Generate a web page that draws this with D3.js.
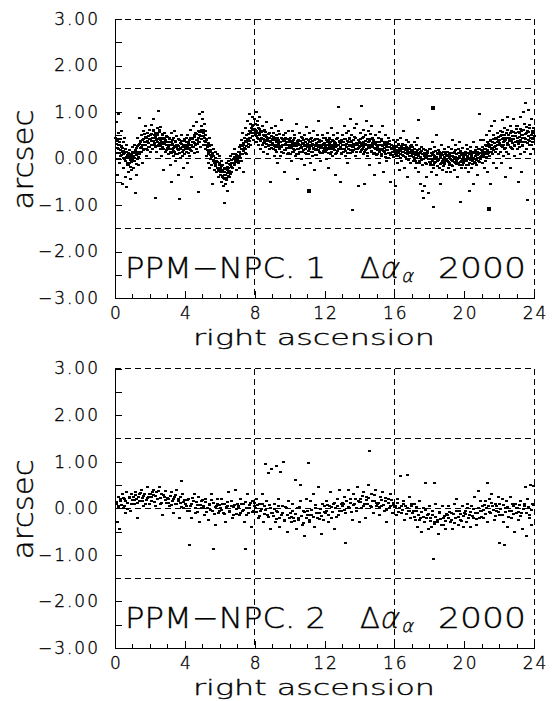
<!DOCTYPE html>
<html>
<head>
<meta charset="utf-8">
<script src="https://cdn.jsdelivr.net/npm/d3@7"></script>
<style>
  body { margin: 0; background: #fff; }
  svg text { font-family: "DejaVu Sans", sans-serif; font-weight: 200; fill: #000; stroke: #000; stroke-width: 0.35px; }
  .tick text { font-size: 17px; letter-spacing: 2px; }
  line, path { shape-rendering: crispEdges; }
</style>
</head>
<body>
<svg id="chart" width="553" height="701"></svg>
<script>
// PPM - NPC differences: [right ascension (h), delta (arcsec)]
const npc1Early = [
  [0.02,0.45],[0.05,0.12],[0.07,0.78],[0.1,-0.35],[0.12,0.38],[0.15,0.55],[0.18,0.2],[0.2,0.95],[0.22,0.3],[0.25,-0.1],[0.28,0.42],[0.3,0.05],[0.33,0.6],[0.35,0.25],[0.38,-0.55],[0.4,0.15],[0.43,0.35],[0.45,-0.2],[0.48,0.1],[0.5,0.45],[0.52,0.0],[0.55,-0.4],[0.58,0.2],[0.6,-0.05],[0.63,0.3],[0.65,-0.62],[0.68,0.08],[0.7,-0.15],[0.73,0.12],[0.75,-0.3],[0.78,0.02],[0.8,-0.1],[0.83,0.18],[0.85,-0.45],[0.88,0.05],[0.9,-0.25],[0.93,0.1],[0.95,-0.02],[0.98,0.25],
  [1.02,0.05],[1.05,-0.2],[1.08,0.3],[1.1,-0.05],[1.13,0.15],[1.15,-0.75],[1.18,0.1],[1.2,-0.35],[1.23,0.22],[1.25,0.0],[1.28,0.45],[1.3,-0.15],[1.33,0.28],[1.36,0.1],[1.4,0.88],[1.42,0.35],[1.45,0.15],[1.48,0.5],[1.5,0.25],[1.53,-0.1],[1.55,0.4],[1.58,0.6],[1.6,0.3],[1.63,0.18],[1.66,0.52],[1.7,0.35],[1.72,0.7],[1.75,0.2],[1.78,0.45],[1.8,0.05],[1.83,0.55],[1.86,0.38],[1.9,0.25],[1.93,0.62],[1.96,0.42],[1.98,0.15],
  [2.02,0.5],[2.05,0.3],[2.08,0.72],[2.1,0.45],[2.13,0.2],[2.15,0.6],[2.18,0.38],[2.2,0.85],[2.23,0.5],[2.25,0.28],[2.28,-0.85],[2.3,0.55],[2.33,0.42],[2.35,0.15],[2.38,0.65],[2.4,0.35],[2.43,0.5],[2.46,1.02],[2.48,0.3],[2.5,0.58],[2.53,0.45],[2.55,0.2],[2.58,0.4],[2.6,0.68],[2.63,0.32],[2.65,0.05],[2.68,0.5],[2.7,0.25],[2.73,0.42],[2.76,-0.25],[2.8,0.35],[2.83,0.55],[2.86,0.15],[2.9,0.3],[2.93,0.48],[2.96,0.22],
  [3.02,0.35],[3.05,0.1],[3.08,0.45],[3.1,0.2],[3.13,-0.15],[3.15,0.3],[3.18,0.55],[3.2,0.12],[3.23,-0.5],[3.25,0.28],[3.28,0.4],[3.3,0.05],[3.33,0.22],[3.36,0.6],[3.4,0.15],[3.42,0.35],[3.45,-0.05],[3.48,0.25],[3.5,0.48],[3.53,0.1],[3.56,0.3],[3.6,-0.35],[3.62,0.18],[3.65,-0.88],[3.68,0.4],[3.7,0.2],[3.73,0.02],[3.76,0.32],[3.8,0.5],[3.83,0.15],[3.86,0.25],[3.9,-0.2],[3.93,0.38],[3.96,0.1],
  [4.02,0.3],[4.05,0.15],[4.08,0.45],[4.1,-0.1],[4.13,0.25],[4.15,0.5],[4.18,0.2],[4.2,0.35],[4.23,0.05],[4.25,0.4],[4.28,0.62],[4.3,0.18],[4.33,0.3],[4.36,-0.4],[4.4,0.45],[4.42,0.25],[4.45,0.7],[4.48,0.35],[4.5,0.12],[4.53,0.5],[4.56,0.3],[4.6,0.55],[4.62,0.2],[4.65,0.78],[4.68,0.4],[4.7,0.15],[4.73,0.6],[4.75,-0.72],[4.76,0.35],[4.8,0.95],[4.83,0.5],[4.86,0.25],[4.9,0.7],[4.93,0.42],[4.96,0.85],
  [5.0,1.0],[5.02,0.55],[5.05,0.3],[5.08,0.75],[5.1,0.45],[5.13,0.2],[5.15,0.6],[5.18,0.35],[5.2,0.05],[5.23,0.4],[5.26,0.25],[5.3,-0.1],[5.32,0.3],[5.35,0.1],[5.38,0.45],[5.4,-0.2],[5.43,0.15],[5.46,0.0],[5.5,0.28],[5.52,-0.15],[5.55,0.08],[5.58,-0.55],[5.6,-0.05],[5.63,0.2],[5.66,-0.25],[5.7,0.02],[5.72,-0.12],[5.75,0.15],[5.78,-0.3],[5.8,-0.08],[5.83,0.1],[5.86,-0.2],[5.9,-0.4],[5.93,-0.1],[5.96,0.05],
  [6.0,-0.2],[6.03,-0.35],[6.05,-0.05],[6.08,-0.5],[6.1,-0.25],[6.13,-0.4],[6.15,-0.15],[6.18,-0.6],[6.2,-0.3],[6.22,-0.45],[6.25,-0.95],[6.27,-0.2],[6.3,-0.55],[6.32,-0.35],[6.35,-0.1],[6.38,-0.42],[6.4,-0.25],[6.43,-0.7],[6.45,-0.3],[6.48,-0.05],[6.5,-0.2],[6.53,-0.4],[6.56,-0.15],[6.6,0.05],[6.62,-0.3],[6.65,-0.1],[6.68,-0.5],[6.7,0.1],[6.73,-0.2],[6.76,0.0],[6.8,-0.12],[6.83,0.2],[6.86,-0.05],[6.9,0.1],[6.93,-0.25],[6.96,0.05],
  [7.0,0.0],[7.03,0.15],[7.05,-0.1],[7.08,0.25],[7.1,0.05],[7.13,-0.2],[7.15,0.3],[7.18,0.1],[7.2,0.4],[7.22,-0.05],[7.25,0.2],[7.28,0.55],[7.3,0.1],[7.33,0.3],[7.36,-0.3],[7.4,0.45],[7.42,0.2],[7.45,0.65],[7.48,0.35],[7.5,0.1],[7.53,0.5],[7.56,0.8],[7.6,0.4],[7.62,0.25],[7.65,0.95],[7.68,0.6],[7.7,0.45],[7.73,0.75],[7.76,0.3],[7.8,0.55],[7.83,0.9],[7.86,0.7],[7.9,0.4],[7.93,0.62],[7.96,0.85]
];

const npc1Middle = [
  [8.0,0.75],[8.03,0.5],[8.05,1.0],[8.08,0.6],[8.1,0.35],[8.13,0.8],[8.15,0.45],[8.18,0.65],[8.2,0.3],[8.22,0.55],[8.25,0.9],[8.28,0.4],[8.3,0.2],[8.33,0.6],[8.36,0.45],[8.4,0.7],[8.42,0.3],[8.45,0.5],[8.48,0.15],[8.5,0.42],[8.53,0.62],[8.56,0.35],[8.6,0.5],[8.62,0.25],[8.65,0.78],[8.68,0.4],[8.7,0.1],[8.73,0.45],[8.76,0.3],[8.8,0.55],[8.83,0.2],[8.86,0.38],[8.9,-0.5],[8.91,0.65],[8.93,0.3],[8.96,0.48],
  [9.0,0.4],[9.03,0.2],[9.05,0.55],[9.08,0.3],[9.1,0.05],[9.13,0.45],[9.15,0.25],[9.18,0.7],[9.2,0.35],[9.22,0.15],[9.25,0.5],[9.28,0.3],[9.3,-0.1],[9.33,0.4],[9.36,0.6],[9.4,0.2],[9.42,0.35],[9.45,0.05],[9.48,0.45],[9.5,0.25],[9.53,0.82],[9.56,0.3],[9.6,0.12],[9.62,0.5],[9.65,0.28],[9.68,-0.3],[9.7,0.4],[9.73,0.18],[9.76,0.55],[9.8,0.3],[9.83,0.1],[9.86,0.42],[9.9,0.22],[9.93,0.6],[9.96,0.35],
  [10.0,0.3],[10.03,0.1],[10.05,0.45],[10.08,0.25],[10.1,-0.05],[10.13,0.35],[10.15,0.6],[10.18,0.2],[10.2,0.4],[10.22,0.15],[10.25,0.3],[10.28,0.5],[10.3,0.05],[10.33,0.28],[10.36,0.75],[10.4,0.35],[10.42,0.2],[10.45,-0.45],[10.48,0.4],[10.5,0.1],[10.53,0.3],[10.56,0.55],[10.6,0.22],[10.62,0.38],[10.65,0.0],[10.68,0.25],[10.7,0.45],[10.73,0.15],[10.76,0.32],[10.8,-0.15],[10.83,0.5],[10.86,0.2],[10.9,0.35],[10.93,0.68],[10.96,0.1],
  [11.0,0.25],[11.03,0.4],[11.05,0.1],[11.08,0.3],[11.1,0.55],[11.13,0.2],[11.15,-0.1],[11.18,0.35],[11.2,0.15],[11.22,0.45],[11.25,0.28],[11.28,0.05],[11.3,0.38],[11.33,0.6],[11.36,0.2],[11.4,0.3],[11.42,-0.25],[11.45,0.42],[11.48,0.18],[11.5,0.3],[11.53,0.08],[11.56,0.5],[11.6,0.25],[11.62,0.35],[11.65,0.8],[11.68,0.15],[11.7,0.4],[11.73,0.22],[11.76,-0.05],[11.8,0.3],[11.83,0.5],[11.86,0.12],[11.9,0.28],[11.93,0.45],[11.96,0.2],
  [12.0,0.3],[12.03,0.15],[12.05,0.45],[12.08,0.22],[12.1,0.0],[12.13,0.35],[12.15,0.55],[12.18,0.2],[12.2,0.38],[12.22,-0.2],[12.25,0.25],[12.28,0.45],[12.3,0.1],[12.33,0.3],[12.36,0.65],[12.4,0.2],[12.42,0.4],[12.45,0.05],[12.48,0.28],[12.5,0.5],[12.53,0.18],[12.56,0.35],[12.6,-0.35],[12.62,0.25],[12.65,0.42],[12.68,0.12],[12.7,0.3],[12.73,0.55],[12.76,0.2],[12.8,1.1],[12.83,0.35],[12.86,-0.5],[12.9,0.25],[12.93,0.1],[12.96,0.4],
  [13.0,0.3],[13.03,0.5],[13.05,0.15],[13.08,0.35],[13.1,0.7],[13.13,0.2],[13.15,0.42],[13.18,0.05],[13.2,0.3],[13.22,0.55],[13.25,0.25],[13.28,-0.1],[13.3,0.38],[13.33,0.6],[13.36,0.2],[13.4,0.45],[13.42,0.3],[13.45,0.85],[13.48,0.12],[13.5,0.35],[13.53,0.5],[13.56,0.25],[13.6,-1.1],[13.62,0.4],[13.65,0.18],[13.68,0.65],[13.7,0.3],[13.73,0.05],[13.76,0.45],[13.8,0.28],[13.83,0.75],[13.86,0.2],[13.9,-0.6],[13.93,0.4],[13.96,0.25],
  [14.0,0.35],[14.03,0.15],[14.05,0.55],[14.08,0.3],[14.1,1.12],[14.13,0.2],[14.15,0.45],[14.18,0.62],[14.2,0.1],[14.22,0.35],[14.25,-0.55],[14.28,0.28],[14.3,0.5],[14.33,0.18],[14.36,0.8],[14.4,0.3],[14.42,0.05],[14.45,0.42],[14.48,0.6],[14.5,0.25],[14.53,0.38],[14.56,-0.15],[14.6,0.3],[14.62,0.52],[14.65,0.15],[14.68,0.7],[14.7,0.28],[14.73,0.45],[14.76,0.1],[14.8,0.35],[14.83,-0.35],[14.86,0.22],[14.9,0.5],[14.93,0.3],[14.96,0.08],
  [15.0,0.3],[15.03,0.1],[15.05,0.45],[15.08,0.2],[15.1,-0.1],[15.13,0.35],[15.15,0.58],[15.18,0.18],[15.2,0.3],[15.22,0.05],[15.25,0.42],[15.28,0.2],[15.3,0.7],[15.33,0.28],[15.36,-0.3],[15.4,0.15],[15.42,0.35],[15.45,0.5],[15.48,0.1],[15.5,0.25],[15.53,-0.05],[15.56,0.32],[15.6,0.18],[15.62,0.45],[15.65,0.02],[15.68,0.25],[15.7,0.38],[15.73,0.12],[15.76,-0.5],[15.8,0.22],[15.83,0.3],[15.86,0.08],[15.9,0.4],[15.93,0.15],[15.96,0.25]
];

const npc1Late = [
  [16.0,0.2],[16.03,-0.6],[16.05,0.35],[16.08,0.1],[16.1,0.25],[16.13,-0.1],[16.15,0.4],[16.18,0.15],[16.2,0.05],[16.22,0.3],[16.25,-0.25],[16.28,0.2],[16.3,0.45],[16.33,0.1],[16.36,0.25],[16.4,-0.05],[16.42,0.32],[16.45,0.15],[16.48,0.6],[16.5,0.05],[16.53,0.22],[16.56,-0.2],[16.6,0.3],[16.62,0.12],[16.65,0.4],[16.68,0.0],[16.7,0.2],[16.73,-0.4],[16.76,0.15],[16.8,0.35],[16.83,0.05],[16.86,0.22],[16.9,-0.1],[16.93,0.18],[16.96,0.3],
  [17.0,0.1],[17.03,0.25],[17.05,-0.05],[17.08,0.15],[17.1,0.35],[17.13,0.0],[17.15,0.2],[17.18,-0.2],[17.2,0.08],[17.22,0.3],[17.25,-0.1],[17.28,0.12],[17.3,0.45],[17.33,-0.3],[17.35,0.83],[17.36,0.05],[17.4,0.2],[17.42,-0.05],[17.45,0.15],[17.48,-0.55],[17.5,0.0],[17.53,0.25],[17.56,-0.15],[17.6,-0.7],[17.62,0.1],[17.65,-0.85],[17.68,0.05],[17.7,-0.6],[17.73,0.18],[17.76,-0.1],[17.8,0.02],[17.83,-0.4],[17.86,0.12],[17.9,-0.75],[17.93,0.0],[17.96,0.2],
  [18.0,0.05],[18.03,-0.15],[18.05,0.2],[18.08,0.0],[18.1,-0.3],[18.13,0.1],[18.15,0.35],[18.18,-0.05],[18.2,-1.05],[18.21,0.15],[18.22,-0.2],[18.25,0.05],[18.28,0.25],[18.3,-0.1],[18.33,0.0],[18.36,0.5],[18.4,-0.35],[18.42,0.12],[18.45,-0.05],[18.48,0.18],[18.5,0.0],[18.53,-0.2],[18.56,0.1],[18.6,-0.55],[18.62,0.05],[18.65,0.3],[18.68,-0.1],[18.7,0.08],[18.73,-0.25],[18.76,0.15],[18.8,0.0],[18.83,-0.12],[18.86,0.2],[18.9,-0.05],[18.93,0.1],[18.96,-0.3],
  [19.0,-0.05],[19.03,0.15],[19.05,-0.2],[19.08,0.05],[19.1,0.25],[19.13,-0.1],[19.15,0.1],[19.18,-0.3],[19.2,0.0],[19.22,0.2],[19.25,-0.15],[19.28,0.05],[19.3,0.4],[19.33,-0.05],[19.36,0.12],[19.4,-0.25],[19.42,0.0],[19.45,0.18],[19.48,-0.1],[19.5,0.3],[19.53,-0.05],[19.56,0.1],[19.6,-0.4],[19.62,0.02],[19.65,0.2],[19.68,-0.15],[19.7,0.05],[19.73,0.35],[19.76,-0.93],[19.77,-0.08],[19.8,0.12],[19.83,-0.2],[19.86,0.0],[19.9,0.22],[19.93,-0.1],[19.96,0.08],
  [20.0,0.0],[20.03,-0.2],[20.05,0.15],[20.08,-0.05],[20.1,0.3],[20.13,-0.15],[20.15,0.05],[20.18,0.2],[20.2,-0.3],[20.22,0.0],[20.25,0.12],[20.28,-0.7],[20.3,-0.1],[20.33,0.25],[20.36,0.02],[20.4,-0.2],[20.42,0.1],[20.45,-0.05],[20.48,0.35],[20.5,0.0],[20.53,-0.55],[20.56,0.15],[20.6,-0.1],[20.62,0.05],[20.65,0.25],[20.68,-0.15],[20.7,0.1],[20.73,-0.35],[20.76,0.02],[20.8,0.2],[20.83,-0.08],[20.85,0.95],[20.86,0.12],[20.9,0.4],[20.93,0.0],[20.96,0.18],
  [21.0,0.1],[21.03,-0.1],[21.05,0.25],[21.08,0.05],[21.1,0.4],[21.13,-0.2],[21.15,0.15],[21.18,0.3],[21.2,-0.05],[21.22,0.2],[21.25,0.5],[21.28,0.1],[21.3,-0.3],[21.33,0.35],[21.36,0.15],[21.4,0.6],[21.42,0.05],[21.45,0.28],[21.48,-0.55],[21.5,0.4],[21.53,0.2],[21.56,0.7],[21.6,0.1],[21.62,0.35],[21.65,-0.1],[21.68,0.5],[21.7,0.25],[21.73,0.8],[21.76,0.15],[21.8,0.42],[21.83,-0.2],[21.86,0.3],[21.9,0.55],[21.93,0.1],[21.96,0.38],
  [22.0,0.4],[22.03,0.15],[22.05,0.6],[22.08,0.3],[22.1,-0.1],[22.13,0.5],[22.15,0.25],[22.18,0.82],[22.2,0.35],[22.22,0.05],[22.25,0.45],[22.28,0.65],[22.3,0.2],[22.33,-0.4],[22.36,0.4],[22.4,0.55],[22.42,0.15],[22.45,0.9],[22.48,0.3],[22.5,0.5],[22.53,0.1],[22.56,0.42],[22.6,0.7],[22.62,0.25],[22.65,-0.2],[22.68,0.38],[22.7,0.6],[22.73,0.2],[22.76,0.48],[22.8,0.85],[22.83,0.3],[22.86,0.05],[22.9,0.55],[22.93,0.35],[22.96,0.7],
  [23.0,0.45],[23.03,0.2],[23.05,0.7],[23.08,0.35],[23.1,-0.5],[23.13,0.55],[23.15,0.25],[23.18,0.9],[23.2,0.4],[23.22,0.1],[23.25,0.6],[23.28,-0.3],[23.3,0.5],[23.33,0.3],[23.36,1.0],[23.4,0.45],[23.42,0.15],[23.45,0.75],[23.48,0.35],[23.5,1.2],[23.53,0.55],[23.56,0.2],[23.6,-0.9],[23.62,0.6],[23.65,0.4],[23.68,1.05],[23.7,0.3],[23.73,0.65],[23.76,0.1],[23.8,0.5],[23.83,0.85],[23.86,0.35],[23.9,0.6],[23.93,0.2],[23.96,0.45]
];

// the crowded middle of the band in the upper panel
const npc1Core = [
  [0.04,0.31],[0.09,0.22],[0.11,0.41],[0.16,0.28],[0.21,0.12],[0.24,0.36],[0.29,0.19],[0.32,0.27],[0.37,0.08],[0.41,0.22],[0.44,0.02],[0.47,0.17],[0.53,0.11],[0.57,-0.06],[0.61,0.14],[0.64,0.03],[0.69,-0.09],[0.72,0.06],[0.76,-0.14],[0.79,0.09],[0.84,-0.03],[0.87,-0.18],[0.91,0.04],[0.94,-0.08],[0.99,0.13],
  [1.03,-0.06],[1.07,0.12],[1.11,0.02],[1.14,0.19],[1.19,-0.11],[1.22,0.08],[1.27,0.27],[1.31,0.13],[1.34,0.04],[1.38,0.31],[1.43,0.22],[1.46,0.38],[1.51,0.14],[1.54,0.29],[1.59,0.42],[1.62,0.21],[1.67,0.35],[1.71,0.47],[1.74,0.28],[1.79,0.36],[1.82,0.18],[1.87,0.49],[1.91,0.33],[1.94,0.24],[1.99,0.41],
  [2.04,0.37],[2.07,0.52],[2.11,0.29],[2.16,0.44],[2.19,0.61],[2.24,0.33],[2.27,0.47],[2.31,0.24],[2.34,0.39],[2.39,0.55],[2.42,0.27],[2.47,0.42],[2.51,0.33],[2.54,0.62],[2.59,0.26],[2.62,0.45],[2.66,0.36],[2.71,0.53],[2.74,0.21],[2.79,0.44],[2.82,0.31],[2.87,0.39],[2.91,0.18],[2.94,0.35],[2.98,0.47],
  [3.04,0.24],[3.07,0.41],[3.11,0.29],[3.16,0.13],[3.19,0.36],[3.24,0.21],[3.27,0.32],[3.31,0.44],[3.34,0.16],[3.39,0.27],[3.43,0.38],[3.46,0.09],[3.51,0.29],[3.54,0.21],[3.58,0.41],[3.63,0.26],[3.66,0.12],[3.71,0.33],[3.74,0.22],[3.79,0.37],[3.82,0.06],[3.87,0.29],[3.91,0.19],[3.94,0.43],[3.98,0.24],
  [4.03,0.21],[4.07,0.36],[4.11,0.27],[4.16,0.12],[4.19,0.31],[4.24,0.23],[4.27,0.44],[4.31,0.29],[4.34,0.16],[4.39,0.35],[4.43,0.42],[4.46,0.24],[4.51,0.33],[4.54,0.47],[4.58,0.28],[4.63,0.39],[4.66,0.52],[4.71,0.31],[4.74,0.45],[4.79,0.58],[4.82,0.36],[4.87,0.49],[4.91,0.62],[4.94,0.41],[4.98,0.57],
  [5.03,0.48],[5.06,0.62],[5.11,0.37],[5.14,0.51],[5.19,0.28],[5.22,0.42],[5.27,0.19],[5.31,0.33],[5.34,0.14],[5.39,0.26],[5.42,0.07],[5.47,0.18],[5.51,0.03],[5.54,0.12],[5.59,-0.04],[5.62,0.06],[5.67,-0.09],[5.71,0.01],[5.74,-0.16],[5.79,-0.05],[5.82,-0.21],[5.87,-0.08],[5.91,-0.24],[5.94,-0.13],[5.98,-0.27],
  [6.02,-0.28],[6.06,-0.16],[6.11,-0.37],[6.14,-0.24],[6.19,-0.41],[6.23,-0.29],[6.26,-0.36],[6.31,-0.22],[6.34,-0.47],[6.39,-0.31],[6.42,-0.18],[6.47,-0.38],[6.51,-0.27],[6.54,-0.11],[6.58,-0.33],[6.63,-0.19],[6.66,-0.04],[6.71,-0.21],[6.74,-0.09],[6.79,0.03],[6.82,-0.14],[6.87,-0.02],[6.91,0.07],[6.94,-0.08],[6.98,0.04],
  [7.02,0.06],[7.06,-0.05],[7.11,0.14],[7.14,0.02],[7.19,0.21],[7.23,0.09],[7.26,0.27],[7.31,0.16],[7.34,0.34],[7.39,0.22],[7.43,0.11],[7.46,0.38],[7.51,0.27],[7.54,0.43],[7.59,0.31],[7.63,0.52],[7.66,0.37],[7.71,0.58],[7.74,0.44],[7.79,0.66],[7.82,0.49],[7.87,0.61],[7.91,0.73],[7.94,0.54],[7.98,0.64],
  [8.02,0.62],[8.06,0.48],[8.11,0.71],[8.14,0.55],[8.19,0.42],[8.23,0.64],[8.26,0.51],[8.31,0.37],[8.34,0.56],[8.39,0.44],[8.43,0.59],[8.46,0.33],[8.51,0.48],[8.54,0.39],[8.59,0.56],[8.63,0.31],[8.66,0.46],[8.71,0.38],[8.74,0.53],[8.79,0.27],[8.82,0.44],[8.87,0.35],[8.91,0.49],[8.94,0.22],[8.98,0.41],
  [9.02,0.33],[9.06,0.47],[9.11,0.26],[9.14,0.39],[9.19,0.18],[9.23,0.35],[9.26,0.44],[9.31,0.24],[9.34,0.31],[9.39,0.52],[9.43,0.27],[9.46,0.36],[9.51,0.14],[9.54,0.41],[9.59,0.29],[9.63,0.37],[9.66,0.19],[9.71,0.32],[9.74,0.45],[9.79,0.23],[9.82,0.36],[9.87,0.28],[9.91,0.12],[9.94,0.39],[9.98,0.26],
  [10.02,0.22],[10.06,0.38],[10.11,0.15],[10.14,0.31],[10.19,0.26],[10.23,0.44],[10.26,0.19],[10.31,0.34],[10.34,0.09],[10.39,0.27],[10.43,0.37],[10.46,0.21],[10.51,0.32],[10.54,0.13],[10.59,0.29],[10.63,0.46],[10.66,0.23],[10.71,0.33],[10.74,0.18],[10.79,0.39],[10.82,0.26],[10.87,0.11],[10.91,0.29],[10.94,0.41],[10.98,0.24],
  [11.02,0.31],[11.06,0.17],[11.11,0.36],[11.14,0.24],[11.19,0.43],[11.23,0.27],[11.26,0.14],[11.31,0.32],[11.34,0.22],[11.39,0.39],[11.43,0.26],[11.46,0.08],[11.51,0.34],[11.54,0.21],[11.59,0.41],[11.63,0.18],[11.66,0.29],[11.71,0.35],[11.74,0.12],[11.79,0.26],[11.82,0.38],[11.87,0.23],[11.91,0.31],[11.94,0.16],[11.98,0.34],
  [12.02,0.24],[12.06,0.39],[12.11,0.19],[12.14,0.29],[12.19,0.11],[12.23,0.33],[12.26,0.42],[12.31,0.22],[12.34,0.36],[12.39,0.14],[12.43,0.27],[12.46,0.38],[12.51,0.23],[12.54,0.31],[12.59,0.09],[12.63,0.34],[12.66,0.26],[12.71,0.44],[12.74,0.17],[12.79,0.29],[12.82,0.37],[12.87,0.21],[12.91,0.33],[12.94,0.12],[12.98,0.28],
  [13.02,0.36],[13.06,0.21],[13.11,0.29],[13.14,0.43],[13.19,0.16],[13.23,0.32],[13.26,0.24],[13.31,0.11],[13.34,0.35],[13.39,0.27],[13.43,0.41],[13.46,0.19],[13.51,0.29],[13.54,0.37],[13.59,0.13],[13.63,0.31],[13.66,0.24],[13.71,0.47],[13.74,0.21],[13.79,0.34],[13.82,0.15],[13.87,0.28],[13.91,0.39],[13.94,0.22],[13.98,0.33],
  [14.02,0.27],[14.06,0.41],[14.11,0.18],[14.14,0.34],[14.19,0.24],[14.23,0.46],[14.26,0.13],[14.31,0.31],[14.34,0.38],[14.39,0.21],[14.43,0.29],[14.46,0.12],[14.51,0.36],[14.54,0.23],[14.59,0.42],[14.63,0.27],[14.66,0.17],[14.71,0.33],[14.74,0.24],[14.79,0.39],[14.82,0.11],[14.87,0.31],[14.91,0.21],[14.94,0.36],[14.98,0.19],
  [15.02,0.24],[15.06,0.36],[15.11,0.14],[15.14,0.29],[15.19,0.21],[15.23,0.38],[15.26,0.09],[15.31,0.26],[15.34,0.17],[15.39,0.33],[15.43,0.22],[15.46,0.04],[15.51,0.29],[15.54,0.18],[15.59,0.36],[15.63,0.12],[15.66,0.24],[15.71,0.31],[15.74,0.07],[15.79,0.21],[15.82,0.29],[15.87,0.14],[15.91,0.26],[15.94,0.03],[15.98,0.19],
  [16.02,0.14],[16.06,0.27],[16.11,0.06],[16.14,0.19],[16.19,0.31],[16.23,0.11],[16.26,0.22],[16.31,0.02],[16.34,0.17],[16.39,0.26],[16.43,0.08],[16.46,0.21],[16.51,0.13],[16.54,0.29],[16.59,0.04],[16.63,0.18],[16.66,0.24],[16.71,0.09],[16.74,0.16],[16.79,-0.03],[16.82,0.21],[16.87,0.12],[16.91,0.27],[16.94,0.06],[16.98,0.14],
  [17.02,0.17],[17.06,0.04],[17.11,0.21],[17.14,0.09],[17.19,-0.06],[17.23,0.14],[17.26,0.02],[17.31,0.19],[17.34,0.07],[17.39,-0.09],[17.43,0.12],[17.46,0.03],[17.51,0.16],[17.54,-0.04],[17.59,0.09],[17.63,0.21],[17.66,-0.02],[17.71,0.11],[17.74,0.04],[17.79,-0.12],[17.82,0.08],[17.87,0.16],[17.91,-0.01],[17.94,0.06],[17.98,-0.08],
  [18.02,0.06],[18.06,-0.09],[18.11,0.12],[18.14,-0.03],[18.19,0.08],[18.23,-0.14],[18.26,0.02],[18.31,0.16],[18.34,-0.07],[18.39,0.04],[18.43,-0.17],[18.46,0.09],[18.51,-0.04],[18.54,0.13],[18.59,-0.11],[18.63,0.01],[18.66,0.11],[18.71,-0.06],[18.74,0.07],[18.79,-0.16],[18.82,0.03],[18.87,-0.08],[18.91,0.14],[18.94,-0.02],[18.98,0.05],
  [19.02,0.07],[19.06,-0.08],[19.11,0.02],[19.14,-0.13],[19.19,0.11],[19.23,-0.04],[19.26,0.06],[19.31,-0.16],[19.34,0.03],[19.39,0.14],[19.43,-0.07],[19.46,0.04],[19.51,-0.12],[19.54,0.09],[19.59,-0.02],[19.63,0.12],[19.66,-0.09],[19.71,0.01],[19.74,0.16],[19.79,-0.05],[19.82,0.08],[19.87,-0.14],[19.91,0.03],[19.94,0.11],[19.98,-0.06],
  [20.02,0.08],[20.06,-0.06],[20.11,0.12],[20.14,-0.02],[20.19,0.04],[20.23,-0.13],[20.26,0.09],[20.31,0.17],[20.34,-0.04],[20.39,0.06],[20.43,-0.11],[20.46,0.13],[20.51,0.02],[20.54,-0.08],[20.59,0.11],[20.63,0.19],[20.66,-0.03],[20.71,0.07],[20.74,0.14],[20.79,-0.06],[20.82,0.09],[20.87,0.21],[20.91,0.03],[20.94,0.12],[20.98,0.06],
  [21.02,0.16],[21.06,0.03],[21.11,0.21],[21.14,0.09],[21.19,0.13],[21.23,0.27],[21.26,0.04],[21.31,0.19],[21.34,0.31],[21.39,0.11],[21.43,0.24],[21.46,0.37],[21.51,0.15],[21.54,0.29],[21.59,0.22],[21.63,0.41],[21.66,0.18],[21.71,0.33],[21.74,0.26],[21.79,0.44],[21.82,0.21],[21.87,0.36],[21.91,0.28],[21.94,0.47],[21.98,0.31],
  [22.02,0.33],[22.06,0.49],[22.11,0.26],[22.14,0.41],[22.19,0.56],[22.23,0.29],[22.26,0.38],[22.31,0.51],[22.34,0.23],[22.39,0.44],[22.43,0.34],[22.46,0.61],[22.51,0.28],[22.54,0.45],[22.59,0.37],[22.63,0.54],[22.66,0.22],[22.71,0.42],[22.74,0.33],[22.79,0.58],[22.82,0.41],[22.87,0.27],[22.91,0.48],[22.94,0.36],[22.98,0.63],
  [23.02,0.38],[23.06,0.56],[23.11,0.31],[23.14,0.47],[23.19,0.64],[23.23,0.35],[23.26,0.51],[23.31,0.27],[23.34,0.45],[23.39,0.61],[23.43,0.36],[23.46,0.52],[23.51,0.41],[23.54,0.68],[23.59,0.33],[23.63,0.49],[23.66,0.57],[23.71,0.38],[23.74,0.72],[23.79,0.44],[23.82,0.29],[23.87,0.55],[23.91,0.42],[23.94,0.66],[23.98,0.48]
];

const npc1Heavy = [[18.2,1.09],[21.4,-1.09],[11.1,-0.7]];

const npc2Early = [
  [0.05,0.1],[0.1,-0.3],[0.15,0.25],[0.2,0.05],[0.25,-0.45],[0.3,0.15],[0.38,0.3],[0.45,0.0],[0.5,0.2],[0.55,-0.1],[0.62,0.35],[0.7,0.12],[0.78,0.25],[0.85,-0.05],[0.92,0.3],[0.97,0.18],
  [1.02,0.25],[1.1,0.1],[1.15,0.35],[1.2,0.2],[1.28,-0.2],[1.35,0.3],[1.4,0.15],[1.48,0.4],[1.55,0.22],[1.6,0.05],[1.68,0.3],[1.75,0.18],[1.82,0.45],[1.9,0.25],[1.95,0.1],
  [2.02,0.3],[2.08,0.15],[2.15,0.4],[2.2,0.28],[2.28,0.05],[2.35,0.35],[2.42,0.2],[2.5,0.45],[2.55,0.1],[2.62,0.3],[2.7,-0.15],[2.78,0.25],[2.85,0.38],[2.92,0.12],[2.98,0.22],
  [3.05,0.2],[3.1,0.05],[3.18,0.35],[3.25,0.15],[3.3,-0.1],[3.38,0.25],[3.45,0.1],[3.52,0.4],[3.6,0.2],[3.68,-0.2],[3.75,0.12],[3.8,0.58],[3.82,0.3],[3.88,0.0],[3.95,0.18],
  [4.02,0.1],[4.1,-0.05],[4.18,0.2],[4.22,-0.78],[4.3,0.05],[4.38,-0.2],[4.45,0.15],[4.52,0.3],[4.6,-0.1],[4.68,0.08],[4.75,0.25],[4.82,-0.3],[4.9,0.0],[4.96,0.18],
  [5.02,0.05],[5.1,-0.15],[5.18,0.2],[5.25,0.0],[5.32,-0.25],[5.4,0.1],[5.48,0.3],[5.55,-0.05],[5.6,-0.88],[5.62,0.12],[5.7,-0.35],[5.78,0.05],[5.85,0.2],[5.92,-0.1],[5.98,0.08],
  [6.02,0.0],[6.1,0.2],[6.18,-0.1],[6.25,0.1],[6.32,-0.3],[6.4,0.05],[6.48,0.35],[6.55,-0.05],[6.62,0.15],[6.7,-0.2],[6.78,0.02],[6.85,0.4],[6.92,-0.12],[6.98,0.1],
  [7.02,0.05],[7.1,-0.15],[7.18,0.2],[7.25,-0.05],[7.32,0.1],[7.4,-0.3],[7.42,-0.88],[7.48,0.0],[7.55,0.3],[7.62,-0.1],[7.7,0.08],[7.78,-0.4],[7.85,0.15],[7.92,-0.05],[7.98,0.12],
  [8.02,0.0],[8.1,0.2],[8.18,-0.2],[8.25,0.1],[8.32,-0.05],[8.4,0.3],[8.48,-0.3],[8.55,0.05],[8.6,0.95],[8.65,0.15],[8.72,-0.15],[8.78,0.75],[8.85,0.0],[8.9,-0.45],[8.95,0.85],
  [9.02,-0.1],[9.08,0.1],[9.15,-0.3],[9.2,0.9],[9.25,-0.05],[9.32,0.2],[9.38,-0.4],[9.45,0.78],[9.5,-0.15],[9.58,0.05],[9.62,1.0],[9.7,-0.25],[9.78,0.0],[9.85,-0.5],[9.92,0.15],[9.97,-0.2],
  [10.02,-0.1],[10.1,-0.3],[10.15,0.1],[10.22,-0.2],[10.3,0.6],[10.35,-0.45],[10.42,0.0],[10.5,-0.25],[10.58,0.15],[10.62,0.5],[10.7,-0.35],[10.78,-0.05],[10.85,-0.6],[10.92,0.2],[10.98,-0.15],
  [11.02,-0.05],[11.05,0.97],[11.1,-0.3],[11.18,0.15],[11.25,-0.15],[11.32,0.3],[11.4,-0.4],[11.48,0.0],[11.55,-0.2],[11.62,0.45],[11.7,-0.1],[11.78,-0.55],[11.85,0.1],[11.92,-0.25],[11.98,0.05]
];

const npc2Late = [
  [12.02,-0.1],[12.1,0.15],[12.18,-0.3],[12.25,0.05],[12.32,0.35],[12.4,-0.2],[12.48,0.1],[12.55,-0.45],[12.62,0.0],[12.7,0.2],[12.78,-0.15],[12.85,0.4],[12.92,-0.05],[12.98,0.12],
  [13.02,0.05],[13.1,0.25],[13.18,-0.1],[13.2,-0.75],[13.25,0.15],[13.32,0.4],[13.4,0.0],[13.48,0.2],[13.55,-0.25],[13.62,0.3],[13.7,0.1],[13.78,-0.05],[13.85,0.45],[13.92,0.15],[13.98,-0.3],
  [14.02,0.2],[14.1,0.0],[14.18,0.35],[14.25,0.1],[14.32,-0.2],[14.4,0.25],[14.48,0.5],[14.56,1.23],[14.6,0.05],[14.68,0.3],[14.75,-0.1],[14.82,0.15],[14.9,0.4],[14.96,0.05],
  [15.02,0.1],[15.1,-0.15],[15.18,0.25],[15.25,0.05],[15.32,0.35],[15.4,-0.05],[15.48,0.15],[15.55,-0.3],[15.62,0.2],[15.7,0.0],[15.78,0.3],[15.85,-0.1],[15.92,0.12],[15.98,0.02],
  [16.02,0.05],[16.1,-0.15],[16.18,0.2],[16.25,0.0],[16.32,0.7],[16.4,-0.1],[16.48,0.15],[16.55,-0.25],[16.62,0.05],[16.7,0.72],[16.78,-0.05],[16.85,0.25],[16.92,-0.2],[16.98,0.1],
  [17.02,-0.1],[17.1,0.1],[17.18,-0.25],[17.25,-0.05],[17.32,-0.4],[17.4,0.15],[17.48,-0.2],[17.55,-0.5],[17.62,0.0],[17.7,-0.3],[17.78,0.55],[17.85,-0.15],[17.92,-0.45],[17.98,0.05],
  [18.02,-0.2],[18.1,-0.4],[18.18,-0.05],[18.22,-1.09],[18.28,-0.3],[18.3,0.54],[18.35,0.1],[18.42,-0.25],[18.5,-0.55],[18.58,-0.1],[18.65,-0.35],[18.72,0.05],[18.8,-0.2],[18.88,-0.45],[18.95,-0.12],
  [19.02,-0.15],[19.1,0.05],[19.18,-0.3],[19.25,-0.1],[19.32,-0.45],[19.4,0.1],[19.48,-0.2],[19.55,0.2],[19.62,-0.35],[19.7,-0.05],[19.78,-0.25],[19.85,0.05],[19.92,-0.4],[19.98,-0.1],
  [20.02,-0.05],[20.1,-0.3],[20.18,0.1],[20.25,-0.15],[20.32,-0.4],[20.4,0.05],[20.48,-0.2],[20.55,0.25],[20.62,-0.1],[20.7,-0.35],[20.78,0.0],[20.8,0.37],[20.85,-0.2],[20.92,0.15],[20.98,-0.05],
  [21.02,0.05],[21.1,-0.2],[21.18,0.15],[21.25,0.0],[21.3,0.54],[21.32,-0.3],[21.4,0.2],[21.48,-0.1],[21.55,0.3],[21.62,0.05],[21.7,-0.25],[21.78,0.1],[21.85,-0.05],[21.92,0.25],[21.98,-0.15],
  [22.0,-0.75],[22.02,0.1],[22.1,-0.15],[22.18,0.2],[22.25,-0.3],[22.3,-0.78],[22.32,0.0],[22.4,0.15],[22.48,-0.4],[22.55,-0.05],[22.62,0.25],[22.7,-0.2],[22.78,0.05],[22.85,-0.5],[22.92,0.1],[22.98,-0.1],
  [23.02,0.0],[23.1,-0.25],[23.18,0.15],[23.25,-0.1],[23.32,-0.45],[23.4,0.05],[23.48,0.45],[23.55,-0.6],[23.62,0.2],[23.7,-0.15],[23.75,0.5],[23.82,-0.35],[23.88,0.1],[23.95,0.48]
];

// the crowded middle of the band in the lower panel
const npc2Core = [
  [0.07,0.14],[0.17,0.02],[0.26,0.19],[0.34,0.07],[0.43,0.23],[0.52,0.04],[0.6,0.16],[0.68,-0.02],[0.81,0.21],[0.9,0.09],
  [1.06,0.18],[1.16,0.29],[1.24,0.11],[1.33,0.24],[1.44,0.33],[1.52,0.16],[1.63,0.27],[1.72,0.09],[1.81,0.22],[1.92,0.31],
  [2.05,0.24],[2.12,0.34],[2.22,0.13],[2.31,0.27],[2.4,0.19],[2.48,0.36],[2.58,0.22],[2.66,0.11],[2.75,0.29],[2.88,0.17],
  [3.03,0.12],[3.14,0.26],[3.22,0.06],[3.33,0.19],[3.42,0.28],[3.49,0.09],[3.58,0.16],[3.71,0.24],[3.79,0.03],[3.91,0.14],
  [4.06,0.04],[4.14,0.17],[4.26,-0.06],[4.34,0.09],[4.42,0.21],[4.56,0.01],[4.64,0.13],[4.72,-0.08],[4.86,0.07],[4.93,0.15],
  [5.06,0.01],[5.14,0.13],[5.22,-0.09],[5.36,0.06],[5.44,-0.04],[5.52,0.17],[5.66,-0.12],[5.74,0.02],[5.82,0.1],[5.95,-0.06],
  [6.06,-0.04],[6.14,0.09],[6.22,-0.13],[6.36,0.02],[6.44,0.14],[6.52,-0.07],[6.66,0.05],[6.74,-0.15],[6.82,0.08],[6.95,-0.02],
  [7.06,0.02],[7.14,-0.11],[7.22,0.09],[7.36,-0.04],[7.45,0.13],[7.52,-0.14],[7.66,0.01],[7.74,0.11],[7.82,-0.08],[7.95,0.04],
  [8.06,-0.08],[8.14,0.06],[8.22,-0.17],[8.36,-0.02],[8.44,0.1],[8.52,-0.12],[8.62,-0.03],[8.74,-0.19],[8.82,0.07],[8.93,-0.1],
  [9.06,-0.16],[9.12,-0.02],[9.22,-0.24],[9.28,-0.09],[9.36,0.04],[9.42,-0.2],[9.55,-0.11],[9.66,-0.28],[9.74,0.02],[9.88,-0.14],
  [10.06,-0.19],[10.12,-0.05],[10.26,-0.27],[10.32,-0.12],[10.46,-0.21],[10.54,0.03],[10.66,-0.17],[10.74,-0.31],[10.82,-0.08],[10.95,-0.22],
  [11.07,-0.14],[11.14,-0.26],[11.22,-0.04],[11.36,-0.18],[11.44,0.06],[11.52,-0.11],[11.66,-0.23],[11.74,-0.02],[11.82,-0.16],[11.95,-0.07],
  [12.06,-0.05],[12.14,0.08],[12.22,-0.14],[12.36,0.02],[12.44,-0.09],[12.52,0.12],[12.66,-0.18],[12.74,0.04],[12.82,-0.06],[12.95,0.09],
  [13.06,0.09],[13.14,-0.04],[13.22,0.16],[13.36,0.02],[13.44,0.12],[13.52,-0.08],[13.66,0.07],[13.74,0.19],[13.82,0.01],[13.95,0.14],
  [14.06,0.14],[14.14,0.26],[14.22,0.04],[14.36,0.17],[14.44,0.09],[14.52,0.23],[14.64,0.02],[14.72,0.16],[14.86,0.28],[14.93,0.11],
  [15.06,0.11],[15.14,0.02],[15.22,0.17],[15.36,0.06],[15.44,0.21],[15.52,-0.03],[15.66,0.12],[15.74,0.04],[15.82,0.18],[15.95,0.07],
  [16.06,0.03],[16.14,0.12],[16.22,-0.08],[16.36,0.05],[16.44,-0.04],[16.52,0.09],[16.66,-0.13],[16.74,0.01],[16.82,-0.06],[16.95,0.04],
  [17.06,-0.06],[17.14,-0.18],[17.22,0.02],[17.36,-0.14],[17.44,-0.25],[17.52,-0.07],[17.66,-0.19],[17.74,-0.03],[17.82,-0.22],[17.95,-0.12],
  [18.06,-0.27],[18.14,-0.14],[18.26,-0.33],[18.32,-0.19],[18.46,-0.29],[18.54,-0.08],[18.62,-0.24],[18.76,-0.36],[18.84,-0.16],[18.92,-0.27],
  [19.06,-0.22],[19.14,-0.09],[19.22,-0.26],[19.36,-0.13],[19.44,-0.31],[19.52,-0.06],[19.66,-0.19],[19.74,-0.12],[19.82,-0.28],[19.95,-0.17],
  [20.06,-0.13],[20.14,0.01],[20.22,-0.21],[20.36,-0.08],[20.44,-0.16],[20.52,-0.02],[20.66,-0.24],[20.74,-0.11],[20.88,-0.06],[20.95,-0.18],
  [21.06,-0.04],[21.14,0.08],[21.22,-0.12],[21.36,0.04],[21.44,-0.07],[21.52,0.11],[21.66,-0.03],[21.74,-0.16],[21.82,0.05],[21.95,-0.09],
  [22.06,-0.02],[22.14,-0.14],[22.22,0.07],[22.36,-0.08],[22.44,0.03],[22.52,-0.19],[22.66,-0.05],[22.74,0.09],[22.82,-0.12],[22.95,0.01],
  [23.06,-0.07],[23.14,0.06],[23.22,-0.16],[23.36,-0.02],[23.44,0.09],[23.52,-0.11],[23.66,0.03],[23.74,-0.2],[23.82,-0.04],[23.92,0.08]
];

const npc2Heavy = [];

const yLabelled = [-3, -2, -1, 0, 1, 2, 3];
const yHalf = [-2.5, -2, -1, -0.5, 0, 0.5, 1, 2, 2.5];
const xLabelled = [0, 4, 8, 12, 16, 20, 24];
const xHours = [1, 2, 3, 5, 6, 7, 9, 10, 11, 13, 14, 15, 17, 18, 19, 21, 22, 23];
const gridRa = [8, 16];
const gridDelta = [-1.5, 0, 1.5];

const panels = [
  {top: 19, bottom: 298, points: npc1Early.concat(npc1Middle, npc1Late, npc1Core), heavy: npc1Heavy, tag: '1'},
  {top: 368.5, bottom: 648, points: npc2Early.concat(npc2Late, npc2Core), heavy: npc2Heavy, tag: '2'}
];

const svg = d3.select('#chart');
const x = d3.scaleLinear().domain([0, 24]).range([115, 534]);
const dash = '6,4';

function drawPanel(p) {
  const y = d3.scaleLinear().domain([-3, 3]).range([p.bottom, p.top]);
  const g = svg.append('g');

  // dashed reference lines and the open top/right frame
  g.selectAll('line.hgrid').data(gridDelta.concat([3])).join('line')
    .attr('class', 'hgrid')
    .attr('x1', x(0)).attr('x2', x(24))
    .attr('y1', d => y(d)).attr('y2', d => y(d))
    .attr('stroke', '#000').attr('stroke-dasharray', dash);
  g.selectAll('line.vgrid').data(gridRa.concat([24])).join('line')
    .attr('class', 'vgrid')
    .attr('x1', d => x(d)).attr('x2', d => x(d))
    .attr('y1', y(3)).attr('y2', y(-3))
    .attr('stroke', '#000').attr('stroke-dasharray', dash);

  // one star = a small 3x2 pixel block, as on the original plotter output
  g.append('g').selectAll('rect').data(p.points).join('rect')
    .attr('x', d => Math.round(x(d[0])) - 1)
    .attr('y', d => Math.round(y(d[1])) - 1)
    .attr('width', 3).attr('height', 2)
    .attr('fill', '#000');

  g.append('g').selectAll('rect').data(p.heavy).join('rect')
    .attr('x', d => Math.round(x(d[0])) - 2)
    .attr('y', d => Math.round(y(d[1])) - 2)
    .attr('width', 4).attr('height', 4)
    .attr('fill', '#000');

  // left axis, ticks pointing inward
  g.append('g')
    .attr('transform', `translate(${x(0)},0)`)
    .call(d3.axisLeft(y).tickValues(yLabelled).tickFormat(d3.format('.2f'))
      .tickSizeInner(-7).tickSizeOuter(0).tickPadding(15));
  g.append('g')
    .attr('transform', `translate(${x(0)},0)`)
    .call(d3.axisLeft(y).tickValues(yHalf).tickFormat('').tickSizeInner(-7).tickSizeOuter(0))
    .call(a => a.select('.domain').remove());

  // bottom axis
  g.append('g')
    .attr('transform', `translate(0,${y(-3)})`)
    .call(d3.axisBottom(x).tickValues(xLabelled).tickFormat(d3.format('d'))
      .tickSizeInner(-7).tickSizeOuter(0).tickPadding(9))
    .call(a => a.selectAll('text').attr('dx', 1));
  g.append('g')
    .attr('transform', `translate(0,${y(-3)})`)
    .call(d3.axisBottom(x).tickValues(xHours).tickFormat('').tickSizeInner(-4).tickSizeOuter(0))
    .call(a => a.select('.domain').remove());

  g.append('text')
    .attr('transform', `translate(33,${y(0) + 1}) rotate(-90)`)
    .attr('text-anchor', 'middle')
    .attr('font-size', 28)
    .attr('textLength', 100).attr('lengthAdjust', 'spacingAndGlyphs')
    .text('arcsec');

  g.append('text')
    .attr('x', 314).attr('y', p.bottom + 47)
    .attr('text-anchor', 'middle')
    .attr('font-size', 22)
    .attr('textLength', 242).attr('lengthAdjust', 'spacingAndGlyphs')
    .text('right ascension');

  // catalogue tag inside the frame
  const base = p.bottom - 20;
  g.append('text')
    .attr('x', 125).attr('y', base).attr('font-size', 29)
    .attr('textLength', 201).attr('lengthAdjust', 'spacingAndGlyphs')
    .text('PPM\u2212NPC. ' + p.tag);
  g.append('text')
    .attr('x', 360).attr('y', base).attr('font-size', 29)
    .text('\u0394');
  g.append('text')
    .attr('transform', `translate(379,${base}) skewX(-14)`)
    .attr('font-size', 29)
    .text('\u03b1');
  g.append('text')
    .attr('transform', `translate(401,${base + 4}) skewX(-14)`)
    .attr('font-size', 18)
    .text('\u03b1');
  g.append('text')
    .attr('x', 438).attr('y', base).attr('font-size', 29)
    .attr('textLength', 88).attr('lengthAdjust', 'spacingAndGlyphs')
    .text('2000');
}

panels.forEach(drawPanel);
</script>
</body>
</html>
